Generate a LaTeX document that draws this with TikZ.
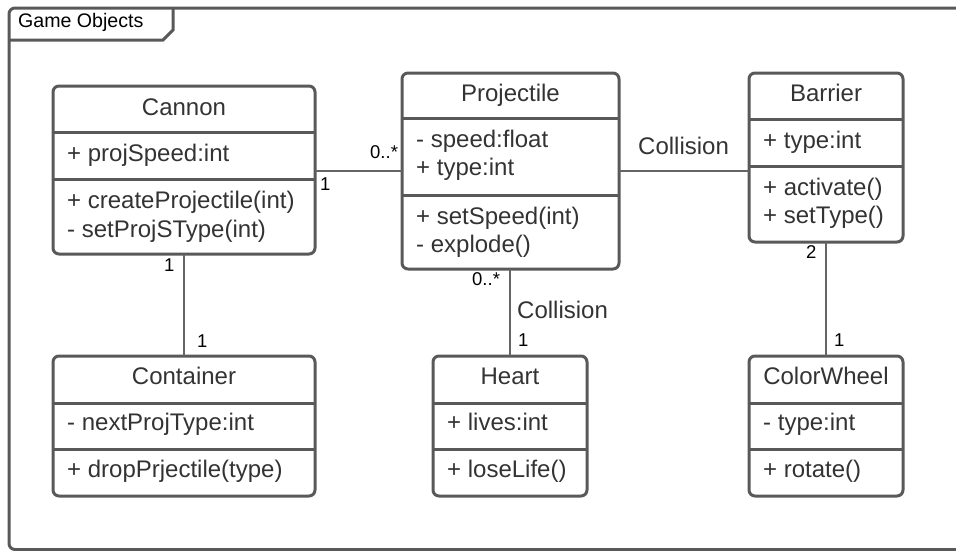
\documentclass[tikz,border=0pt]{standalone}
\usepackage{fontspec}
\setmainfont{Liberation Sans}
\usepackage{xcolor}

\definecolor{boxline}{RGB}{89,89,89}
\definecolor{assocline}{RGB}{100,100,100}
\definecolor{boxtext}{RGB}{51,51,51}

\tikzset{
  umlbox/.style={draw=boxline, line width=3pt, rounded corners=6pt, inner sep=0pt, outer sep=0pt},
  divider/.style={draw=boxline, line width=3pt},
  umltext/.style={text=boxtext, font=\fontsize{24}{28}\selectfont, inner sep=0pt, anchor=base west},
  umltitle/.style={umltext, anchor=base},
  mult/.style={font=\fontsize{18.5}{22}\selectfont, inner sep=0pt, anchor=base west},
  assoc/.style={draw=assocline, line width=2pt},
  framed/.style={draw=boxline, line width=3pt}
}

\begin{document}
\begin{tikzpicture}[x=1pt, y=-1pt]
\useasboundingbox (0,0) rectangle (956,550);
\clip (0,0) rectangle (956,550);

% frame
\draw[framed, rounded corners=6pt] (980,8) -- (9,8) -- (9,549.5) -- (980,549.5);
\draw[framed] (173,8) -- (173,30) -- (163,40) -- (9,40);
\node[inner sep=0pt, anchor=base west, font=\fontsize{19.6}{23}\selectfont] (frametitle) at (18,27) {Game Objects};

% class boxes
\node[umlbox, minimum width=262, minimum height=168] (cannon) at (184,170) {};
\node[umlbox, minimum width=217, minimum height=196] (projectile) at (510.5,171) {};
\node[umlbox, minimum width=154, minimum height=169] (barrier) at (826,157.5) {};
\node[umlbox, minimum width=262, minimum height=140] (container) at (184,426) {};
\node[umlbox, minimum width=154, minimum height=140] (heart) at (510,426) {};
\node[umlbox, minimum width=154, minimum height=140] (colorwheel) at (826,426) {};

% compartments
\draw[divider] (cannon.west |- 0,132) -- (cannon.east |- 0,132);
\draw[divider] (cannon.west |- 0,179) -- (cannon.east |- 0,179);
\draw[divider] (projectile.west |- 0,118) -- (projectile.east |- 0,118);
\draw[divider] (projectile.west |- 0,195) -- (projectile.east |- 0,195);
\draw[divider] (barrier.west |- 0,119) -- (barrier.east |- 0,119);
\draw[divider] (barrier.west |- 0,166) -- (barrier.east |- 0,166);
\draw[divider] (container.west |- 0,403) -- (container.east |- 0,403);
\draw[divider] (container.west |- 0,449) -- (container.east |- 0,449);
\draw[divider] (heart.west |- 0,403) -- (heart.east |- 0,403);
\draw[divider] (heart.west |- 0,449) -- (heart.east |- 0,449);
\draw[divider] (colorwheel.west |- 0,403) -- (colorwheel.east |- 0,403);
\draw[divider] (colorwheel.west |- 0,449) -- (colorwheel.east |- 0,449);

% Cannon
\node[umltitle] (cannon-name) at (184,115) {Cannon};
\node[umltext] (cannon-a1) at (67,161.5) {+ projSpeed:int};
\node[umltext] (cannon-m1) at (67,208) {+ createProjectile(int)};
\node[umltext] (cannon-m2) at (67,237) {- setProjSType(int)};

% Projectile
\node[umltitle] (projectile-name) at (510.5,101) {Projectile};
\node[umltext] (projectile-a1) at (416,147) {- speed:float};
\node[umltext] (projectile-a2) at (416,175) {+ type:int};
\node[umltext] (projectile-m1) at (416,224) {+ setSpeed(int)};
\node[umltext] (projectile-m2) at (416,252) {- explode()};

% Barrier
\node[umltitle] (barrier-name) at (826,101) {Barrier};
\node[umltext] (barrier-a1) at (763,148) {+ type:int};
\node[umltext] (barrier-m1) at (763,195) {+ activate()};
\node[umltext] (barrier-m2) at (763,223) {+ setType()};

% Container
\node[umltitle] (container-name) at (184,384) {Container};
\node[umltext] (container-a1) at (67,430) {- nextProjType:int};
\node[umltext] (container-m1) at (67,477) {+ dropPrjectile(type)};

% Heart
\node[umltitle] (heart-name) at (510,384) {Heart};
\node[umltext] (heart-a1) at (447,430) {+ lives:int};
\node[umltext] (heart-m1) at (447,477) {+ loseLife()};

% ColorWheel
\node[umltitle] (colorwheel-name) at (826,384) {ColorWheel};
\node[umltext] (colorwheel-a1) at (763,430) {- type:int};
\node[umltext] (colorwheel-m1) at (763,477) {+ rotate()};

% associations
\draw[assoc] (projectile.west) -- (projectile.west -| cannon.east);
\draw[assoc] (projectile.east) -- (projectile.east -| barrier.west);
\draw[assoc] (cannon.south) -- (container.north);
\draw[assoc] (projectile.south -| heart.north) -- (heart.north);
\draw[assoc] (barrier.south) -- (colorwheel.north);

% multiplicities and names
\node[mult] (m-cp1) at (370,158) {0..*};
\node[mult] (m-cp2) at (320,190) {1};
\node[umltext] (pb-name) at (638,154) {Collision};
\node[mult] (m-cc1) at (164,271) {1};
\node[mult] (m-cc2) at (197,347) {1};
\node[mult] (m-ph1) at (472,285) {0..*};
\node[umltext] (ph-name) at (517,318) {Collision};
\node[mult] (m-ph2) at (518,346) {1};
\node[mult] (m-bc1) at (806,258) {2};
\node[mult] (m-bc2) at (834,346) {1};
\end{tikzpicture}
\end{document}
